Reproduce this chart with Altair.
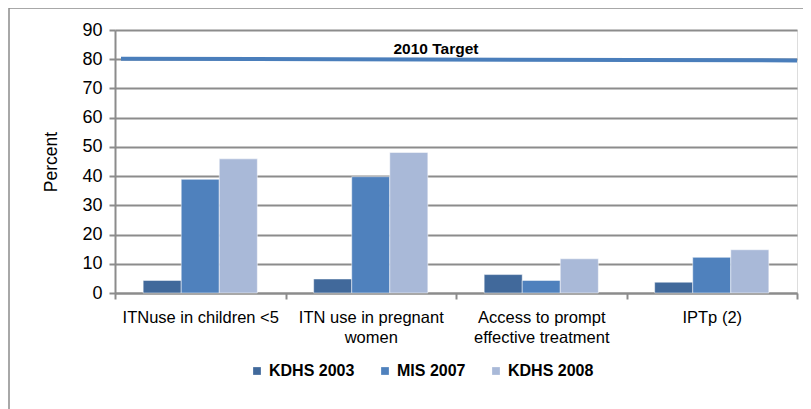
import altair as alt
import pandas as pd

categories = ["ITNuse in children <5", "ITN use in pregnant women",
              "Access to prompt effective treatment", "IPTp (2)"]
series = ["KDHS 2003", "MIS 2007", "KDHS 2008"]
kdhs_2003 = [4.3, 4.8, 6.3, 3.7]
mis_2007 = [38.9, 39.8, 4.3, 12.2]
kdhs_2008 = [45.9, 48.1, 11.7, 14.8]
target_start = 80.2
target_end = 79.6
target_label = "2010 Target"
colors = ["#41699B", "#4F81BD", "#A9B9D8"]

rows = []
for s, vals in zip(series, [kdhs_2003, mis_2007, kdhs_2008]):
    for c, v in zip(categories, vals):
        rows.append({"category": c, "series": s, "value": v})
df = pd.DataFrame(rows)
tdf = pd.DataFrame([{"value": target_start, "value2": target_end, "label": target_label}])

FONT = "Liberation Sans"
GRID = "#8C8C8C"

W, H = 682, 263

label_expr = ("datum.label == 'ITN use in pregnant women' ? ['ITN use in pregnant', 'women'] : "
              "datum.label == 'Access to prompt effective treatment' ? ['Access to prompt', 'effective treatment'] : "
              "datum.label")

y_axis = alt.Axis(title="Percent", values=list(range(0, 91, 10)),
                  labelOverlap=False, labelFlush=False,
                  labelFontSize=18, labelFont=FONT, labelColor="#000000",
                  labelPadding=7, tickSize=6, tickColor=GRID, tickWidth=2,
                  domainColor=GRID, domainWidth=2,
                  grid=True, gridColor=GRID, gridWidth=2,
                  titleFont=FONT, titleFontSize=17.5, titleFontWeight="normal",
                  titleColor="#000000", titlePadding=21)
y_scale = alt.Scale(domain=[0, 90], nice=False)

bars = alt.Chart(df).mark_bar(stroke="white", strokeWidth=0.5).encode(
    x=alt.X("category:N", sort=categories,
            scale=alt.Scale(paddingInner=0, paddingOuter=0),
            axis=alt.Axis(title=None, labelAngle=0, labelExpr=label_expr,
                          labelFontSize=16.5, labelFont=FONT, labelColor="#000000",
                          labelLineHeight=20, labelPadding=10, labelBaseline="top",
                          tickBand="extent", tickSize=6, tickColor=GRID, tickWidth=2,
                          domainColor=GRID, domainWidth=2, grid=False)),
    xOffset=alt.XOffset("series:N", sort=series,
                        scale=alt.Scale(paddingInner=0, paddingOuter=0.74)),
    y=alt.Y("value:Q", scale=y_scale, axis=y_axis),
    color=alt.Color("series:N", sort=series,
                    scale=alt.Scale(domain=series, range=colors),
                    legend=alt.Legend(title=None, orient="none", direction="horizontal",
                                      legendX=134, legendY=333,
                                      symbolType="square", symbolSize=60,
                                      symbolStrokeWidth=0,
                                      labelFont=FONT, labelFontSize=16,
                                      labelFontWeight="bold", labelColor="#000000",
                                      labelOffset=4, columnPadding=22, padding=0)),
)

target = alt.Chart(tdf).mark_rule(color="#4A7EBB", strokeWidth=4).encode(
    x=alt.value(6), x2=alt.value(W),
    y=alt.Y("value:Q", scale=y_scale, axis=y_axis), y2="value2:Q",
)

target_text = alt.Chart(tdf).mark_text(font=FONT, fontSize=15.5, fontWeight="bold",
                                       color="#000000", baseline="middle", dy=-10).encode(
    x=alt.value(321), y=alt.Y("value:Q", scale=y_scale, axis=y_axis), text="label:N",
)

border = alt.Chart(tdf).mark_rect(fill=None, stroke=GRID, strokeWidth=1.5).encode(
    x=alt.value(-106), x2=alt.value(W + 40), y=alt.value(-22), y2=alt.value(H + 140),
)

chart = alt.layer(border, bars, target, target_text).properties(
    width=W, height=H,
    autosize=alt.AutoSizeParams(type="none"),
    padding={"left": 107, "top": 22, "right": 6, "bottom": 116},
).configure_view(stroke=None).configure(background="white")

chart.save("out.html", embed_options={"renderer": "svg", "actions": False})
